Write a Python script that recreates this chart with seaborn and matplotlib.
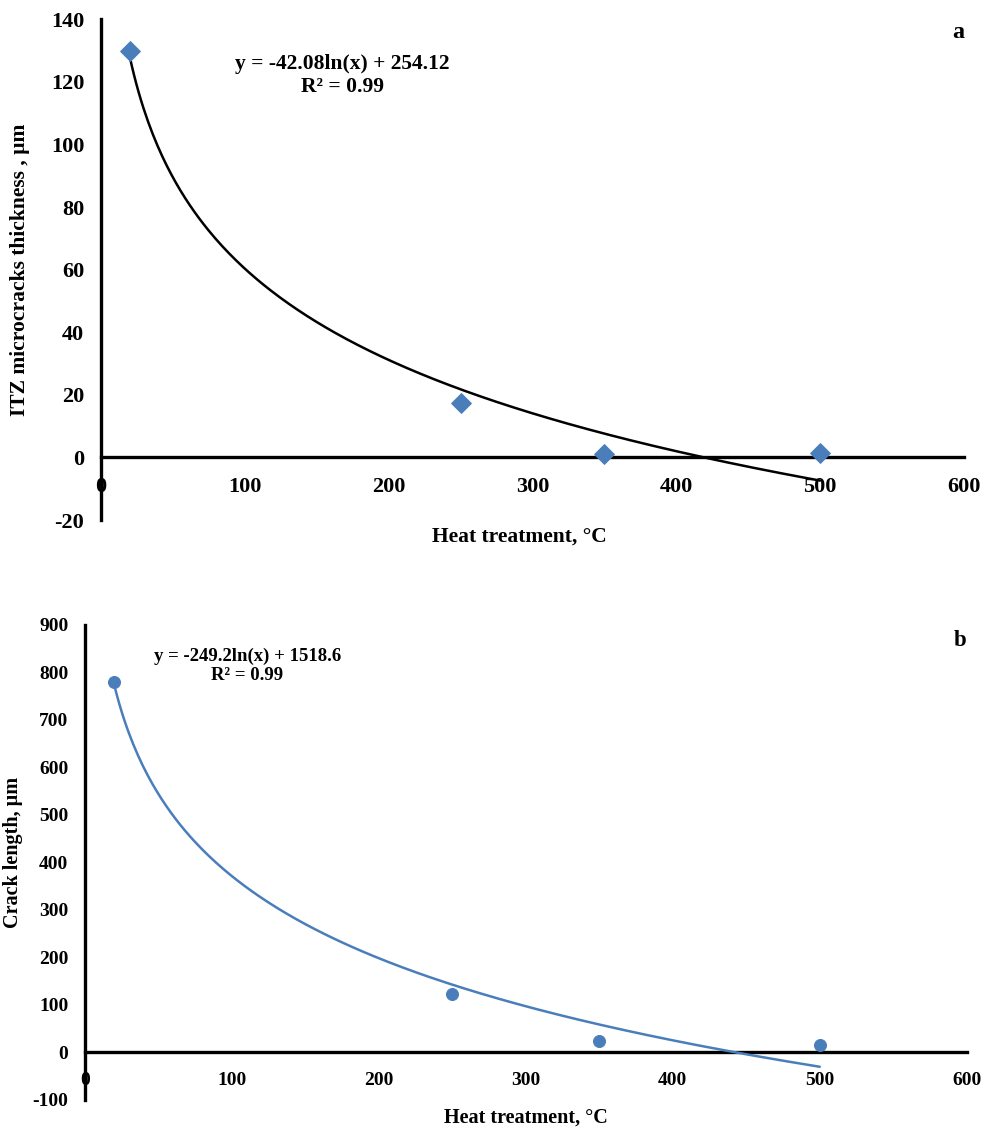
import numpy as np
import pandas as pd
import matplotlib.pyplot as plt
import seaborn as sns

sns.set_style('white')
plt.rcParams['font.family'] = ['Liberation Serif', 'DejaVu Serif']
plt.rcParams['font.weight'] = 'bold'
plt.rcParams['axes.unicode_minus'] = False
plt.rcParams['text.color'] = 'black'
plt.rcParams['axes.labelcolor'] = 'black'

# data
temp = [20, 250, 350, 500]
itz_thick = [130, 17.5, 1, 1.5]
crack_len = [780, 123, 24, 15]

# trend line coefficients printed on the chart: y = a*ln(x) + b
coef_a = (-42.08, 254.12)
coef_b = (-249.2, 1518.6)

xticks = [0, 100, 200, 300, 400, 500, 600]
yticks_a = [-20, 0, 20, 40, 60, 80, 100, 120, 140]
yticks_b = [-100, 0, 100, 200, 300, 400, 500, 600, 700, 800, 900]

blue = '#4a7ebb'

fig = plt.figure(figsize=(9.84, 11.34), dpi=100)
ax1 = fig.add_axes([0.1026, 0.5414, 0.877, 0.4416])
ax2 = fig.add_axes([0.0864, 0.030, 0.896, 0.419])


def panel(ax, y, coef, marker, msize, lcolor, ylim, yticks, ylabel, eq, eqpos, letter,
          fs_tick, fs_lab, fs_eq, xlab_pos, ylab_pos, letter_y):
    df = pd.DataFrame({'x': temp, 'y': y})
    xs = np.linspace(temp[0], temp[-1], 300)
    fit = pd.DataFrame({'x': xs, 'y': coef[0] * np.log(xs) + coef[1]})
    sns.lineplot(data=fit, x='x', y='y', ax=ax, color=lcolor, lw=1.8, zorder=3)
    sns.scatterplot(data=df, x='x', y='y', ax=ax, marker=marker, s=msize, color=blue,
                    edgecolor=blue, zorder=4)
    ax.set_xlim(0, 600)
    ax.set_ylim(*ylim)
    ax.set_xticks(xticks)
    ax.set_yticks(yticks)
    ax.spines['left'].set_position(('data', 0))
    ax.spines['bottom'].set_position(('data', 0))
    ax.spines['right'].set_visible(False)
    ax.spines['top'].set_visible(False)
    for s in ('left', 'bottom'):
        ax.spines[s].set_linewidth(2.4)
        ax.spines[s].set_color('black')
    ax.tick_params(axis='both', direction='in', length=6, width=2, labelsize=fs_tick,
                   colors='black')
    ax.tick_params(axis='x', pad=14)
    ax.tick_params(axis='y', pad=12)
    ax.set_xlabel('Heat treatment, °C', fontsize=fs_lab, fontweight='bold')
    ax.set_ylabel(ylabel, fontsize=fs_lab, fontweight='bold')
    ax.xaxis.set_label_coords(*xlab_pos)
    ax.yaxis.set_label_coords(*ylab_pos)
    ax.text(eqpos[0], eqpos[1], eq, transform=ax.transAxes, ha='center', va='top',
            fontsize=fs_eq, fontweight='bold', linespacing=1.15)
    ax.text(1.0, letter_y, letter, transform=ax.transAxes, ha='right', va='top',
            fontsize=fs_lab + 2, fontweight='bold')


panel(ax1, itz_thick, coef_a, 'D', 100, 'black', (-20, 140), yticks_a,
      'ITZ microcracks thickness , µm',
      'y = -42.08ln(x) + 254.12\nR² = 0.99', (0.28, 0.93), 'a',
      16, 15.5, 15.5, (0.485, -0.014), (-0.082, 0.5), 0.995)
panel(ax2, crack_len, coef_b, 'o', 75, blue, (-100, 900), yticks_b,
      'Crack length, µm',
      'y = -249.2ln(x) + 1518.6\nR² = 0.99', (0.184, 0.952), 'b',
      14, 14.5, 13.5, (0.5, -0.017), (-0.070, 0.52), 0.99)

fig.savefig('out.png', dpi=100)
